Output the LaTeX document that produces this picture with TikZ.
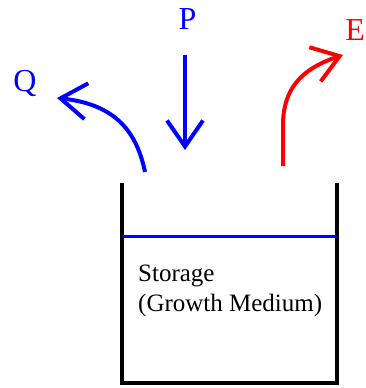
\documentclass[tikz,border=0pt]{standalone}
\usepackage{fontspec}
\setmainfont{Liberation Serif}
\usetikzlibrary{arrows.meta}
\definecolor{InClr}{rgb}{0,0,1}
\definecolor{OutClr}{rgb}{1,0,0}
\definecolor{TankClr}{rgb}{0,0,0}

\begin{document}
\begin{tikzpicture}[x=1pt,y=-1pt,
  flow/.style={line width=4pt,-{Straight Barb[length=26pt,width=36pt,line width=4pt]}},
  lbl/.style={inner sep=0pt,font=\fontsize{32}{36}\selectfont}]
\useasboundingbox (0,0) rectangle (366,388);

% tank
\coordinate (TL) at (122,183);
\coordinate (BL) at (122,383);
\coordinate (BR) at (337,383);
\coordinate (TR) at (337,183);
\coordinate (WL) at (122,236.5);
\coordinate (WR) at (337,236.5);
\draw[line width=4pt,color=TankClr] (TL) -- (BL) -- (BR) -- (TR);
\draw[line width=3.5pt,color=InClr] (WL) -- (WR);
\node[anchor=north west,inner sep=0pt,align=left,
  font=\fontsize{25}{30}\selectfont] (store) at (138,265)
  {Storage\\(Growth Medium)};

% labels
\node[lbl,anchor=base,text=InClr] (P) at (187.5,29) {P};
\node[lbl,anchor=base,text=InClr] (Q) at (25,91) {Q};
\node[lbl,anchor=base east,text=OutClr] (E) at (365,40) {E};

% flows
\coordinate (Pa) at (185,55);
\coordinate (Pb) at (185,150);
\coordinate (Qa) at (145,172);
\coordinate (Qb) at (57,98);
\coordinate (Ea) at (283,166);
\coordinate (Eb) at (343,55);
\draw[flow,color=InClr] (Pa) -- (Pb);
\draw[flow,color=InClr] (Qa) .. controls (136,128) and (112,104) .. (Qb);
\draw[flow,color=OutClr] (Ea) -- (283,125) .. controls (283,82) and (310,66) .. (Eb);

\end{tikzpicture}
\end{document}
